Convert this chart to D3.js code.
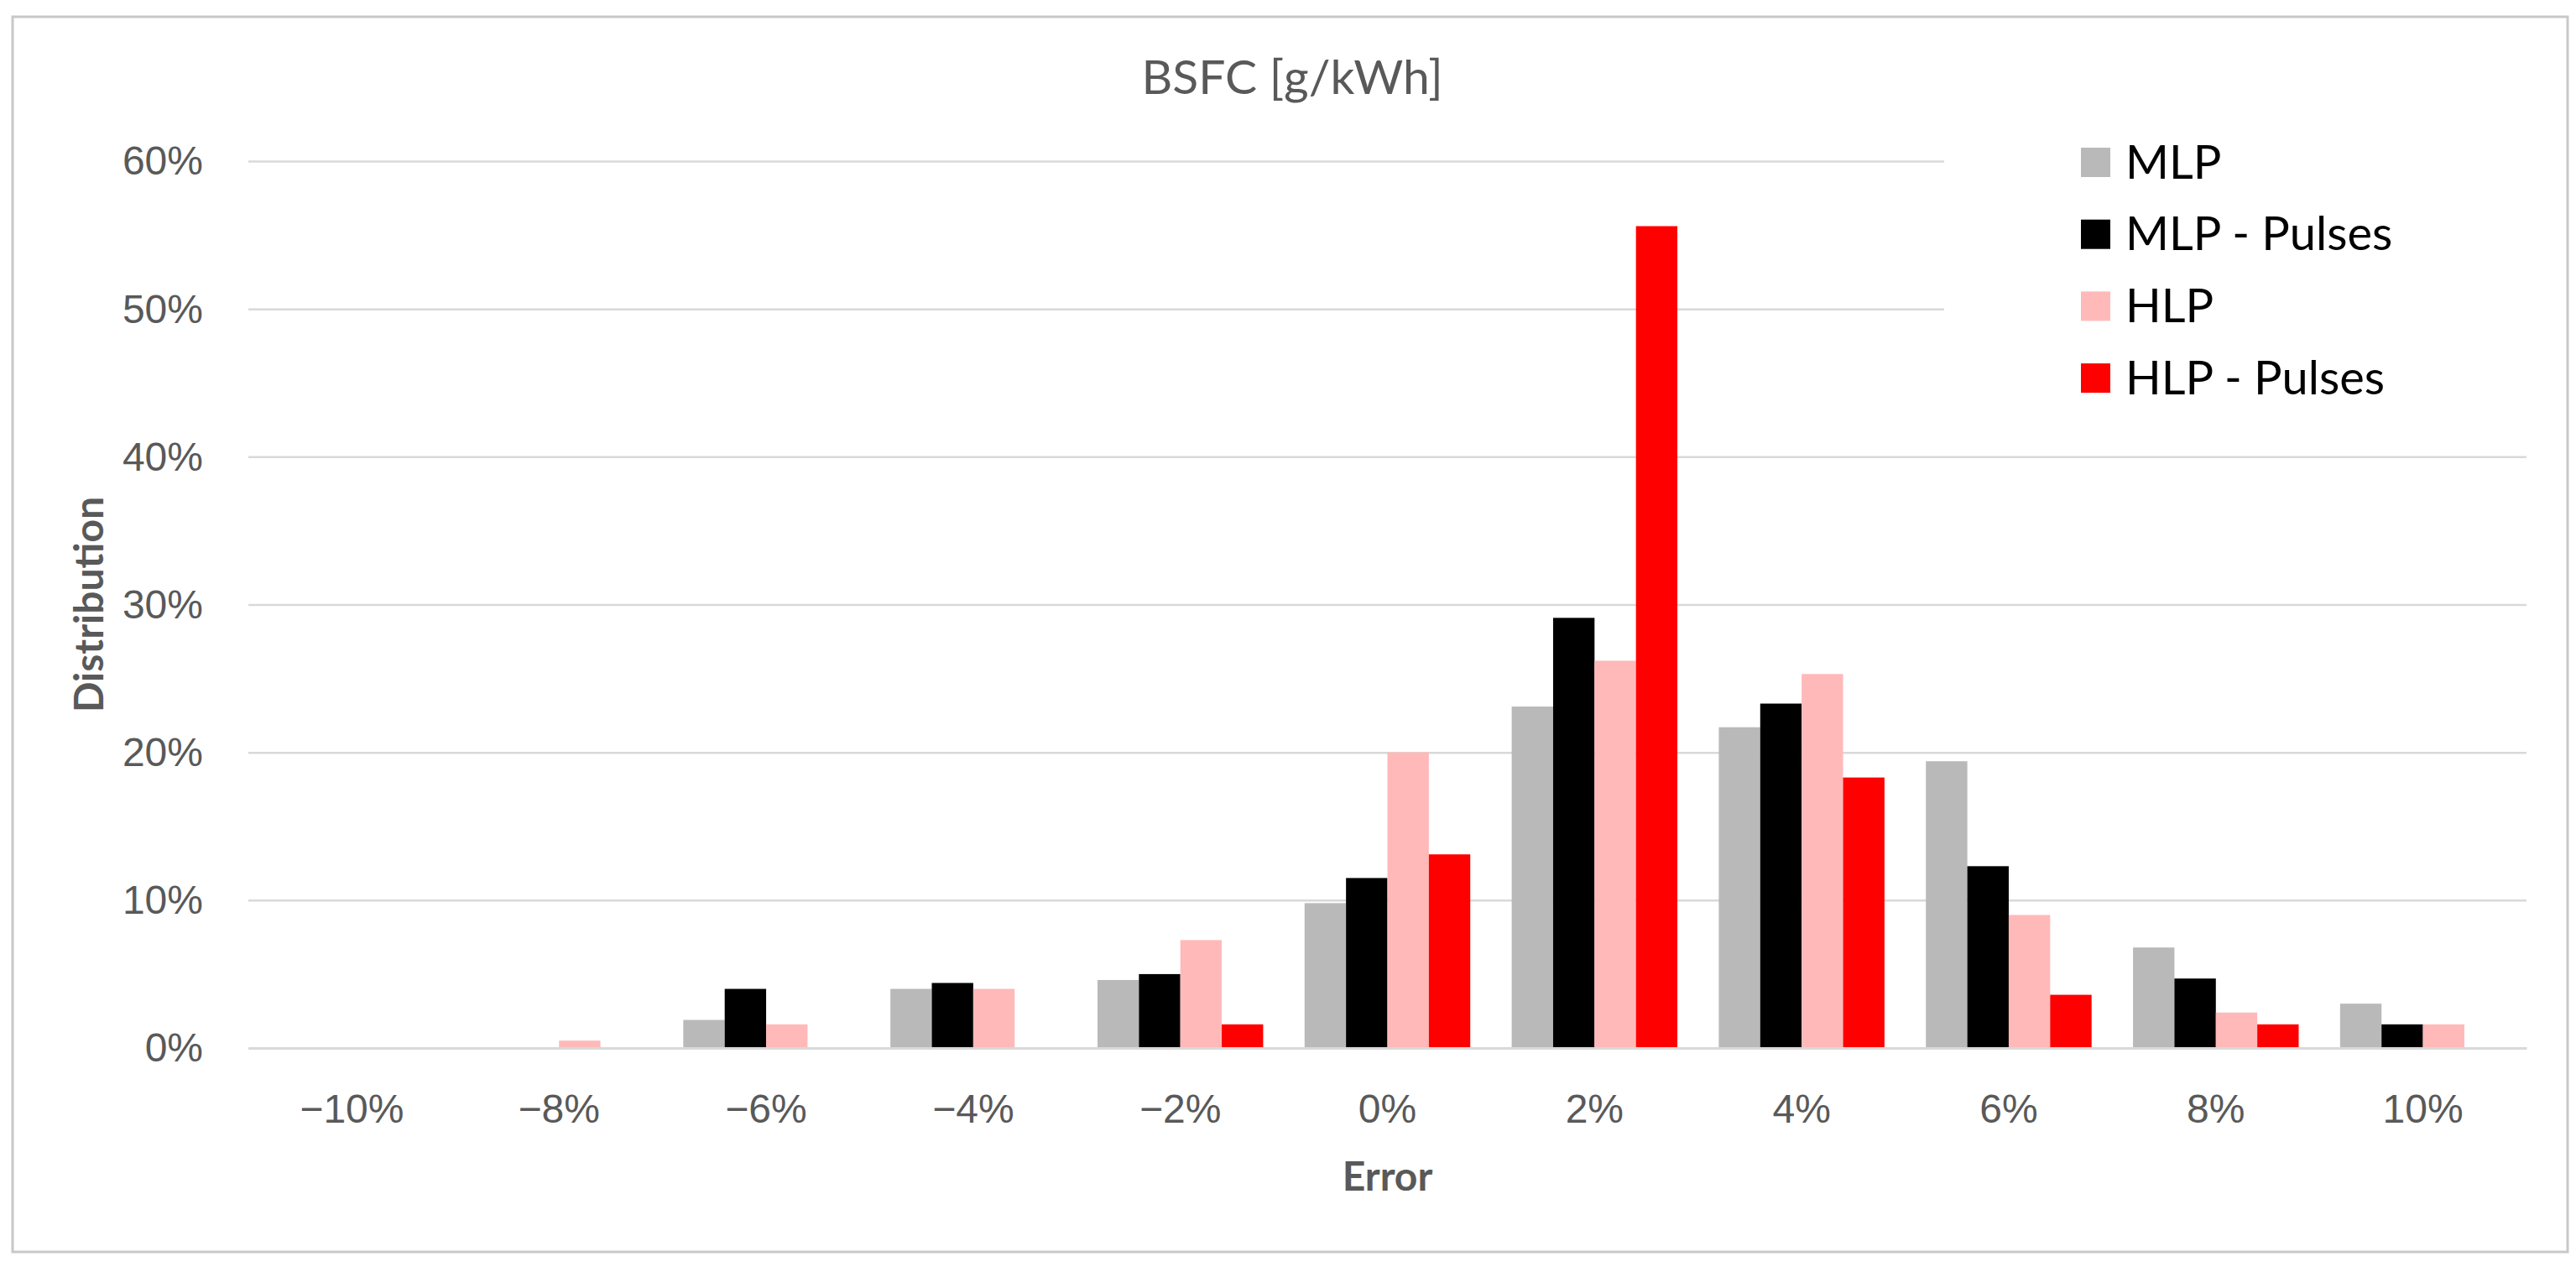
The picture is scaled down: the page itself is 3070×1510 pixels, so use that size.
<!DOCTYPE html>
<html>
<head>
<meta charset="utf-8">
<script src="https://cdn.jsdelivr.net/npm/d3@7"></script>
<style>
  html, body { margin: 0; padding: 0; background: #ffffff; }
  svg { display: block; font-family: Lato, "Open Sans", "Noto Sans", sans-serif; }
</style>
</head>
<body>
<svg id="chart" width="3070" height="1510"></svg>
<script>
// ---- data ----
const categories = ["−10%", "−8%", "−6%", "−4%", "−2%", "0%", "2%", "4%", "6%", "8%", "10%"];
const seriesNames = ["MLP", "MLP - Pulses", "HLP", "HLP - Pulses"];
const seriesColors = ["#b9b9b9", "#000000", "#ffb9b9", "#ff0000"];
const mlp        = [0, 0,     0.019, 0.040, 0.046, 0.098, 0.231, 0.217, 0.194, 0.068, 0.030];
const mlpPulses  = [0, 0,     0.040, 0.044, 0.050, 0.115, 0.291, 0.233, 0.123, 0.047, 0.016];
const hlp        = [0, 0.005, 0.016, 0.040, 0.073, 0.200, 0.262, 0.253, 0.090, 0.024, 0.016];
const hlpPulses  = [0, 0,     0,     0,     0.016, 0.131, 0.556, 0.183, 0.036, 0.016, 0];
const seriesValues = [mlp, mlpPulses, hlp, hlpPulses];
const yTicks = [0, 0.1, 0.2, 0.3, 0.4, 0.5, 0.6];
const chartTitle = "BSFC [g/kWh]";
const xTitle = "Error";
const yTitle = "Distribution";

// ---- layout ----
const W = 3070, H = 1510;
const plot = { left: 296, right: 3011, top: 192, bottom: 1249 };
const svg = d3.select("#chart");

// outer frame
svg.append("rect")
  .attr("x", 15).attr("y", 20).attr("width", 3045).attr("height", 1472)
  .attr("fill", "#ffffff").attr("stroke", "#c8c8c8").attr("stroke-width", 3);

const x0 = d3.scaleBand().domain(categories).range([plot.left, plot.right])
  .paddingInner(0.2).paddingOuter(0.1);
const x1 = d3.scaleBand().domain(seriesNames).range([0, x0.bandwidth()]);
const y = d3.scaleLinear().domain([0, 0.6]).range([plot.bottom, plot.top]);

// y axis with gridlines
const yAxis = svg.append("g")
  .attr("transform", `translate(${plot.left},0)`)
  .call(d3.axisLeft(y).tickValues(yTicks).tickFormat(d3.format(".0%"))
    .tickSize(-(plot.right - plot.left)).tickPadding(54));
yAxis.select(".domain").remove();
yAxis.selectAll(".tick line").attr("stroke", "#d9d9d9").attr("stroke-width", 2.5);
yAxis.selectAll(".tick text")
  .attr("fill", "#595959").attr("font-size", 48).attr("dy", "0.33em");

// bars
const rows = categories.map((c, i) => ({ cat: c, vals: seriesNames.map((s, k) => ({ s, k, v: seriesValues[k][i] })) }));
const groups = svg.append("g").selectAll("g").data(rows).join("g")
  .attr("transform", d => `translate(${x0(d.cat)},0)`);
groups.selectAll("rect").data(d => d.vals.filter(e => e.v > 0)).join("rect")
  .attr("x", d => x1(d.s))
  .attr("width", x1.bandwidth())
  .attr("y", d => y(d.v))
  .attr("height", d => y(0) - y(d.v))
  .attr("fill", d => seriesColors[d.k]);

// x axis
const xAxis = svg.append("g")
  .attr("transform", `translate(0,${plot.bottom})`)
  .call(d3.axisBottom(x0).tickSize(0).tickSizeOuter(0));
xAxis.select(".domain").attr("stroke", "#d9d9d9").attr("stroke-width", 3);
xAxis.selectAll(".tick text")
  .attr("fill", "#595959").attr("font-size", 48)
  .attr("y", 89).attr("dy", null);

// axis titles
svg.append("text")
  .attr("x", (plot.left + plot.right) / 2).attr("y", 1419)
  .attr("text-anchor", "middle").attr("font-size", 48).attr("font-weight", "bold")
  .attr("fill", "#595959").text(xTitle);
svg.append("text")
  .attr("transform", `translate(123,${(plot.top + plot.bottom) / 2}) rotate(-90)`)
  .attr("text-anchor", "middle").attr("font-size", 48).attr("font-weight", "bold")
  .attr("fill", "#595959").text(yTitle);

// chart title
svg.append("text")
  .attr("x", 1540).attr("y", 112)
  .attr("text-anchor", "middle").attr("font-size", 57)
  .attr("fill", "#595959").text(chartTitle);

// legend
const legend = svg.append("g");
legend.append("rect")
  .attr("x", 2317).attr("y", 140).attr("width", plot.right - 2317 + 1).attr("height", 360)
  .attr("fill", "#ffffff");
const items = legend.selectAll("g.item").data(seriesNames).join("g")
  .attr("class", "item")
  .attr("transform", (d, i) => `translate(2480,${193.5 + i * 85.7})`);
items.append("rect")
  .attr("x", 0).attr("y", -17.5).attr("width", 35).attr("height", 35)
  .attr("fill", (d, i) => seriesColors[i]);
items.append("text")
  .attr("x", 53).attr("y", 19)
  .attr("font-size", 56).attr("fill", "#000000").text(d => d);
</script>
</body>
</html>
